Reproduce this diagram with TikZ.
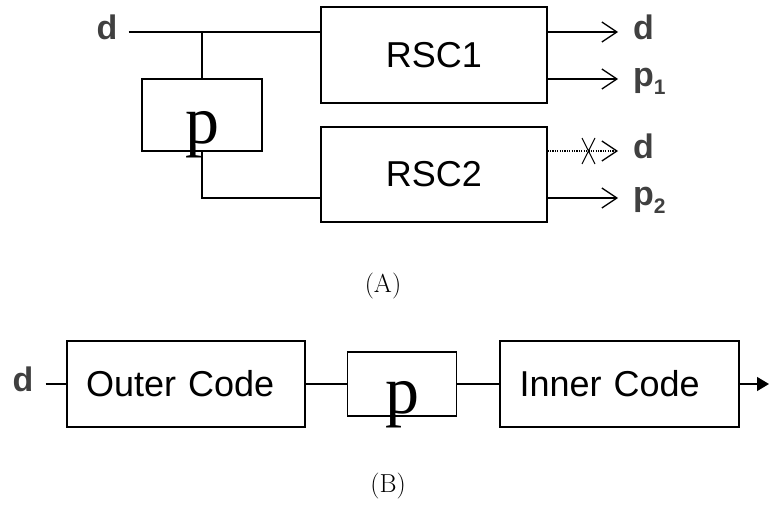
\documentclass[tikz,border=0pt]{standalone}
\usepackage{fontspec}
\setsansfont{Liberation Sans}
\newfontfamily\timesp{Liberation Serif}
\usetikzlibrary{arrows.meta,positioning}
\definecolor{lblgray}{HTML}{404040}

\tikzset{
  codebox/.style={draw, line width=1.3pt, font=\sffamily\fontsize{36}{40}\selectfont},
  permbox/.style={draw, line width=1.3pt, inner sep=0pt, text depth=0pt, font=\timesp\fontsize{68}{70}\selectfont},
  sig/.style={inner sep=0pt, text height=15pt, text depth=0pt, text=lblgray, font=\sffamily\bfseries\fontsize{34}{36}\selectfont},
  wire/.style={line width=1.3pt},
  outarrow/.style={wire, -{Straight Barb[length=15pt, width=20pt]}},
  caption/.style={font=\fontsize{26}{30}\selectfont}
}

\begin{document}
\begin{tikzpicture}[x=1pt, y=-1pt]
  \useasboundingbox (0,0) rectangle (771,508);

  % (A): two RSC encoders in parallel
  \node[sig, inner xsep=11pt] (din) at (107,32) {d};
  \node[codebox, minimum width=226pt, minimum height=96pt] (rsc1) at (434,55) {RSC1};
  \node[codebox, minimum width=226pt, minimum height=95pt] (rsc2) at (434,174.5) {RSC2};
  \node[permbox, minimum width=120pt, minimum height=72pt, text height=58pt] (pa) at (202,115) {p};
  \coordinate (tap) at (202,32);
  \coordinate (bend) at (202,198);

  \draw[wire] (din.east) -- (din.east -| rsc1.west);
  \draw[wire] (tap) -- (pa.north);
  \draw[wire] (pa.south) -- (bend) -- (bend -| rsc2.west);

  % outputs
  \coordinate (e1) at (618,32);
  \coordinate (e2) at (618,79);
  \coordinate (e3) at (618,151);
  \coordinate (e4) at (618,198);
  \draw[outarrow] (e1 -| rsc1.east) -- (e1);
  \draw[outarrow] (e2 -| rsc1.east) -- (e2);
  \draw[outarrow, dash pattern=on 1.2pt off 1.2pt] (e3 -| rsc2.east) -- (e3);
  \draw[line width=1pt] (582,138) -- (595,164) (595,138) -- (582,164);
  \draw[outarrow] (e4 -| rsc2.east) -- (e4);

  \node[sig, right=15pt of e1] (o1) {d};
  \node[sig, right=15pt of e2] (o2) {p\raisebox{-8pt}{\fontsize{21}{21}\selectfont 1}};
  \node[sig, right=15pt of e3] (o3) {d};
  \node[sig, right=15pt of e4] (o4) {p\raisebox{-8pt}{\fontsize{21}{21}\selectfont 2}};

  \node[caption] (capa) at (383,286) {(A)};

  % (B): serial concatenation
  \node[sig, inner xsep=12pt] (dinb) at (23,384) {d};
  \node[codebox, minimum width=238pt, minimum height=86pt, text width=200pt, align=left] (outer) at (186,384) {Outer Code};
  \node[permbox, minimum width=109pt, minimum height=64pt, text height=58pt] (pb) at (402,384) {p};
  \node[codebox, minimum width=239pt, minimum height=86pt, text width=200pt, align=left] (inner) at (619.5,384) {Inner Code};
  \coordinate (out) at (769,384);

  \draw[wire] (dinb.east) -- (outer.west);
  \draw[wire] (outer.east) -- (pb.west);
  \draw[wire] (pb.east) -- (inner.west);
  \draw[wire, -{Triangle[length=12pt, width=14pt]}] (inner.east) -- (out);

  \node[caption] (capb) at (388,486) {(B)};
\end{tikzpicture}
\end{document}
